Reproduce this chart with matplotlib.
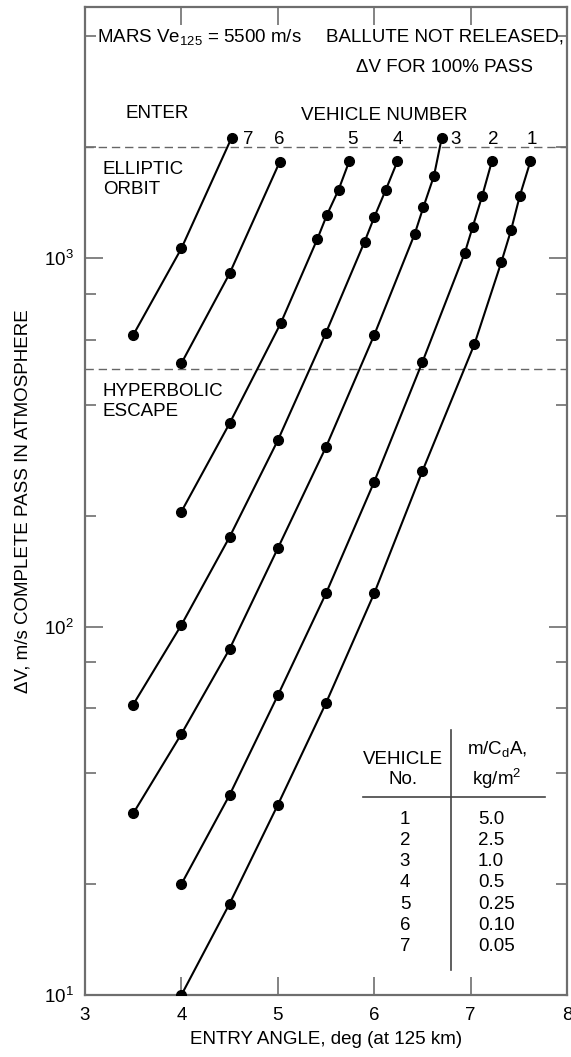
import matplotlib
matplotlib.use("Agg")
import matplotlib.pyplot as plt
from matplotlib.ticker import LogLocator, NullFormatter, FixedLocator
from matplotlib.lines import Line2D

plt.rcParams['font.family'] = ['Liberation Sans', 'DejaVu Sans']
plt.rcParams['mathtext.fontset'] = 'custom'
plt.rcParams['mathtext.rm'] = 'Liberation Sans'
plt.rcParams['mathtext.it'] = 'Liberation Sans:italic'
plt.rcParams['mathtext.bf'] = 'Liberation Sans:bold'
plt.rcParams['mathtext.sf'] = 'Liberation Sans'

# ---- data (entry angle deg, delta-V m/s) ----
v1_x = [4.0, 4.5, 5.0, 5.5, 6.0, 6.5, 7.04, 7.32, 7.42, 7.51, 7.62]
v1_y = [10, 17.7, 32.8, 62, 123, 264, 584, 977, 1191, 1473, 1828]
v2_x = [4.0, 4.5, 5.0, 5.5, 6.0, 6.5, 6.94, 7.02, 7.12, 7.22]
v2_y = [20, 34.9, 65, 123, 247, 522, 1033, 1211, 1473, 1828]
v3_x = [3.5, 4.0, 4.5, 5.0, 5.5, 6.0, 6.42, 6.51, 6.62, 6.70]
v3_y = [31.1, 51.1, 86.9, 163, 307, 618, 1162, 1374, 1671, 2114]
v4_x = [3.5, 4.0, 4.5, 5.0, 5.5, 5.9, 6.0, 6.12, 6.24]
v4_y = [61.4, 101, 175, 320, 627, 1107, 1290, 1531, 1828]
v5_x = [4.0, 4.5, 5.03, 5.41, 5.51, 5.63, 5.74]
v5_y = [205, 356, 665, 1126, 1310, 1531, 1828]
v6_x = [4.0, 4.5, 5.02]
v6_y = [518, 908, 1824]
v7_x = [3.5, 4.0, 4.52]
v7_y = [618, 1062, 2118]

vehicle_numbers = ['1', '2', '3', '4', '5', '6', '7']
mcda_values = ['5.0', '2.5', '1.0', '0.5', '0.25', '0.10', '0.05']
number_label_x = [7.63, 7.23, 6.84, 6.25, 5.77, 5.01, 4.69]

elliptic_limit = 2000
hyperbolic_limit = 500

x_ticks = [3, 4, 5, 6, 7, 8]
x_limits = (3, 8)
y_limits = (10, 4800)

# ---- figure ----
W, H = 571, 1057
fig = plt.figure(figsize=(W / 100, H / 100), dpi=100)
fig.patch.set_facecolor('white')
L, R, T, B = 85, 567, 7, 995
ax = fig.add_axes([L / W, 1 - B / H, (R - L) / W, (B - T) / H])

FS = 13.5
spine_c = '#6e6e6e'

series = [(v1_x, v1_y), (v2_x, v2_y), (v3_x, v3_y), (v4_x, v4_y),
          (v5_x, v5_y), (v6_x, v6_y), (v7_x, v7_y)]
for xs, ys in series:
    ax.plot(xs, ys, color='black', lw=1.5, marker='o', ms=7,
            markerfacecolor='black', markeredgecolor='black', zorder=3)

for yv in (elliptic_limit, hyperbolic_limit):
    ax.axhline(yv, color='#666666', lw=1.0, ls=(0, (6, 3.5)), zorder=1)

ax.set_yscale('log')
ax.set_xlim(*x_limits)
ax.set_ylim(*y_limits)
ax.xaxis.set_major_locator(FixedLocator(x_ticks))
ax.set_xticklabels([str(t) for t in x_ticks])
ax.yaxis.set_major_locator(LogLocator(base=10, numticks=10))
ax.yaxis.set_minor_locator(LogLocator(base=10, subs=[2, 4, 6, 8], numticks=10))
ax.yaxis.set_minor_formatter(NullFormatter())

for s in ax.spines.values():
    s.set_color(spine_c)
    s.set_linewidth(1.6)

ax.tick_params(axis='both', which='major', direction='in', length=13,
               width=1.2, color=spine_c, labelsize=FS, top=True, right=True)
ax.tick_params(axis='y', which='minor', direction='in', length=8,
               width=1.2, color=spine_c, right=True, left=True)
ax.tick_params(axis='x', which='major', pad=9)
ax.tick_params(axis='y', which='major', pad=8)

ax.set_xlabel('ENTRY ANGLE, deg (at 125 km)', fontsize=FS, labelpad=5)
ax.set_ylabel('\u0394V, m/s COMPLETE PASS IN ATMOSPHERE', fontsize=FS, labelpad=9)


def fx(px):
    return (px - L) / (R - L)


def fy(py):
    return (B - py) / (B - T)


tr = ax.transAxes
ax.text(fx(97), fy(37), 'MARS Ve$_{125}$ = 5500 m/s', transform=tr,
        ha='left', va='center', fontsize=FS)
ax.text(fx(564), fy(37), 'BALLUTE NOT RELEASED,', transform=tr,
        ha='right', va='center', fontsize=FS)
ax.text(fx(444), fy(67), '\u0394V FOR 100% PASS', transform=tr,
        ha='center', va='center', fontsize=FS)
ax.text(fx(157), fy(114), 'ENTER', transform=tr, ha='center', va='center', fontsize=FS)
ax.text(fx(384), fy(115), 'VEHICLE NUMBER', transform=tr, ha='center', va='center', fontsize=FS)
for lab, xv in zip(vehicle_numbers, number_label_x):
    ax.text(xv, fy(140), lab, transform=ax.get_xaxis_transform(),
            ha='center', va='center', fontsize=FS)
ax.text(fx(103), fy(170), 'ELLIPTIC', transform=tr, ha='left', va='center', fontsize=FS)
ax.text(fx(103), fy(190), 'ORBIT', transform=tr, ha='left', va='center', fontsize=FS)
ax.text(fx(103), fy(391), 'HYPERBOLIC', transform=tr, ha='left', va='center', fontsize=FS)
ax.text(fx(103), fy(412), 'ESCAPE', transform=tr, ha='left', va='center', fontsize=FS)

# ---- table ----
ax.text(fx(403), fy(759), 'VEHICLE', transform=tr, ha='center', va='center', fontsize=FS)
ax.text(fx(403), fy(780), 'No.', transform=tr, ha='center', va='center', fontsize=FS)
ax.text(fx(497), fy(749), 'm/C$_{\\mathrm{d}}$A,', transform=tr, ha='center', va='center', fontsize=FS)
ax.text(fx(497), fy(779), 'kg/m$^{2}$', transform=tr, ha='center', va='center', fontsize=FS)
ax.add_line(Line2D([fx(363), fx(545)], [fy(797), fy(797)], transform=tr,
                   color='#444444', lw=1.2))
ax.add_line(Line2D([fx(451), fx(451)], [fy(730), fy(970)], transform=tr,
                   color='#444444', lw=1.2))
for i, (n, v) in enumerate(zip(vehicle_numbers, mcda_values)):
    yy = fy(819 + i * 21.33)
    ax.text(fx(405), yy, n, transform=tr, ha='center', va='center', fontsize=FS)
    ax.text(fx(478), yy, v, transform=tr, ha='left', va='center', fontsize=FS)

fig.savefig('out.png', dpi=100, facecolor='white')
